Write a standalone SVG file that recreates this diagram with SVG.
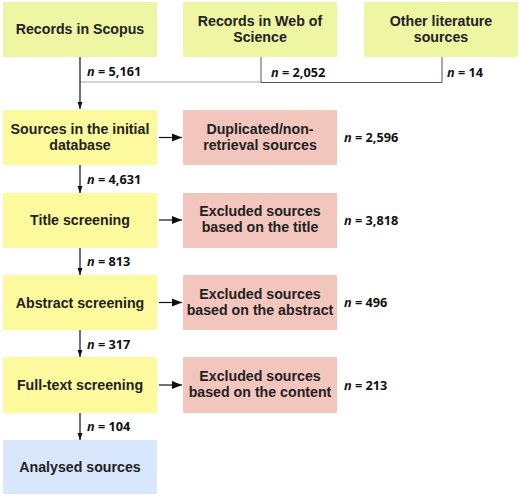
<svg xmlns="http://www.w3.org/2000/svg" width="520" height="497" viewBox="0 0 520 497">
<defs>
<marker id="ah" viewBox="0 0 10 10" refX="10" refY="5" markerWidth="10" markerHeight="10" markerUnits="userSpaceOnUse" orient="auto">
<path d="M0,1 L10,5 L0,9 z" fill="#111"/>
</marker>
<marker id="av" viewBox="0 0 10 14" refX="14" refY="5" markerWidth="14" markerHeight="7" markerUnits="userSpaceOnUse" orient="auto">
<path d="M0,0 L14,5 L0,10 z" fill="#111"/>
</marker>
</defs>
<style>
.src{fill:#eef6a4}
.stp{fill:#fdf99d}
.exc{fill:#f2c5bd}
.fin{fill:#d8e7fb}
.t{font-family:"Liberation Sans",Arial,sans-serif;font-weight:bold;font-size:14.2px;fill:#222;text-anchor:middle}
.n{font-family:"Open Sans","Noto Sans",sans-serif;font-weight:bold;font-size:12.7px;fill:#111}
.n tspan{font-style:italic}
.ln{stroke:#111;stroke-width:1.2;fill:none}
.lg{stroke:#aaa;stroke-width:1;fill:none}
.dg{stroke:#555;stroke-width:1;fill:none}
</style>
<rect width="520" height="497" fill="#fff"/>
<g id="connectors">
<line class="lg" x1="80" y1="82" x2="261" y2="82"/>
<polyline class="dg" points="261,57 261,82.5 442,82.5 442,57"/>
<line class="ln" x1="80" y1="57" x2="80" y2="109" marker-end="url(#av)"/>
<line class="ln" x1="80" y1="165" x2="80" y2="193" marker-end="url(#av)"/>
<line class="ln" x1="80" y1="248" x2="80" y2="275" marker-end="url(#av)"/>
<line class="ln" x1="80" y1="330" x2="80" y2="357" marker-end="url(#av)"/>
<line class="ln" x1="80" y1="413" x2="80" y2="440" marker-end="url(#av)"/>
<line class="ln" x1="159" y1="137.5" x2="182" y2="137.5" marker-end="url(#ah)"/>
<line class="ln" x1="159" y1="220" x2="182" y2="220" marker-end="url(#ah)"/>
<line class="ln" x1="159" y1="302.5" x2="182" y2="302.5" marker-end="url(#ah)"/>
<line class="ln" x1="159" y1="385" x2="182" y2="385" marker-end="url(#ah)"/>
<text class="n" x="87" y="76"><tspan>n</tspan> = 5,161</text>
<text class="n" x="271" y="77"><tspan>n</tspan> = 2,052</text>
<text class="n" x="447" y="77"><tspan>n</tspan> = 14</text>
<text class="n" x="87" y="184"><tspan>n</tspan> = 4,631</text>
<text class="n" x="87" y="266"><tspan>n</tspan> = 813</text>
<text class="n" x="87" y="348.5"><tspan>n</tspan> = 317</text>
<text class="n" x="87" y="431"><tspan>n</tspan> = 104</text>
<text class="n" x="344" y="142"><tspan>n</tspan> = 2,596</text>
<text class="n" x="344" y="224.5"><tspan>n</tspan> = 3,818</text>
<text class="n" x="344" y="307"><tspan>n</tspan> = 496</text>
<text class="n" x="344" y="389.5"><tspan>n</tspan> = 213</text>
</g>
<g id="scopus"><rect class="src" x="3" y="2" width="154" height="55"/><text class="t" x="80" y="34">Records in Scopus</text></g>
<g id="wos"><rect class="src" x="183" y="2" width="154" height="55"/><text class="t" x="260" y="26">Records in Web of</text><text class="t" x="260" y="42">Science</text></g>
<g id="other"><rect class="src" x="364" y="2" width="154" height="55"/><text class="t" x="441" y="26">Other literature</text><text class="t" x="441" y="42">sources</text></g>
<g id="initial"><rect class="stp" x="3" y="110" width="154" height="55"/><text class="t" x="80" y="134">Sources in the initial</text><text class="t" x="80" y="150">database</text></g>
<g id="dup"><rect class="exc" x="183" y="110" width="154" height="55"/><text class="t" x="260" y="134">Duplicated/non-</text><text class="t" x="260" y="150">retrieval sources</text></g>
<g id="title"><rect class="stp" x="3" y="193" width="154" height="55"/><text class="t" x="80" y="225">Title screening</text></g>
<g id="extitle"><rect class="exc" x="183" y="193" width="154" height="55"/><text class="t" x="260" y="216">Excluded sources</text><text class="t" x="260" y="232">based on the title</text></g>
<g id="abstract"><rect class="stp" x="3" y="275" width="154" height="55"/><text class="t" x="80" y="307.5">Abstract screening</text></g>
<g id="exabstract"><rect class="exc" x="183" y="275" width="154" height="55"/><text class="t" x="260" y="298.5">Excluded sources</text><text class="t" x="260" y="314.5">based on the abstract</text></g>
<g id="fulltext"><rect class="stp" x="3" y="357" width="154" height="56"/><text class="t" x="80" y="390">Full-text screening</text></g>
<g id="excontent"><rect class="exc" x="183" y="357" width="154" height="56"/><text class="t" x="260" y="381">Excluded sources</text><text class="t" x="260" y="397">based on the content</text></g>
<g id="analysed"><rect class="fin" x="3" y="440" width="154" height="54"/><text class="t" x="80" y="472">Analysed sources</text></g>
</svg>
